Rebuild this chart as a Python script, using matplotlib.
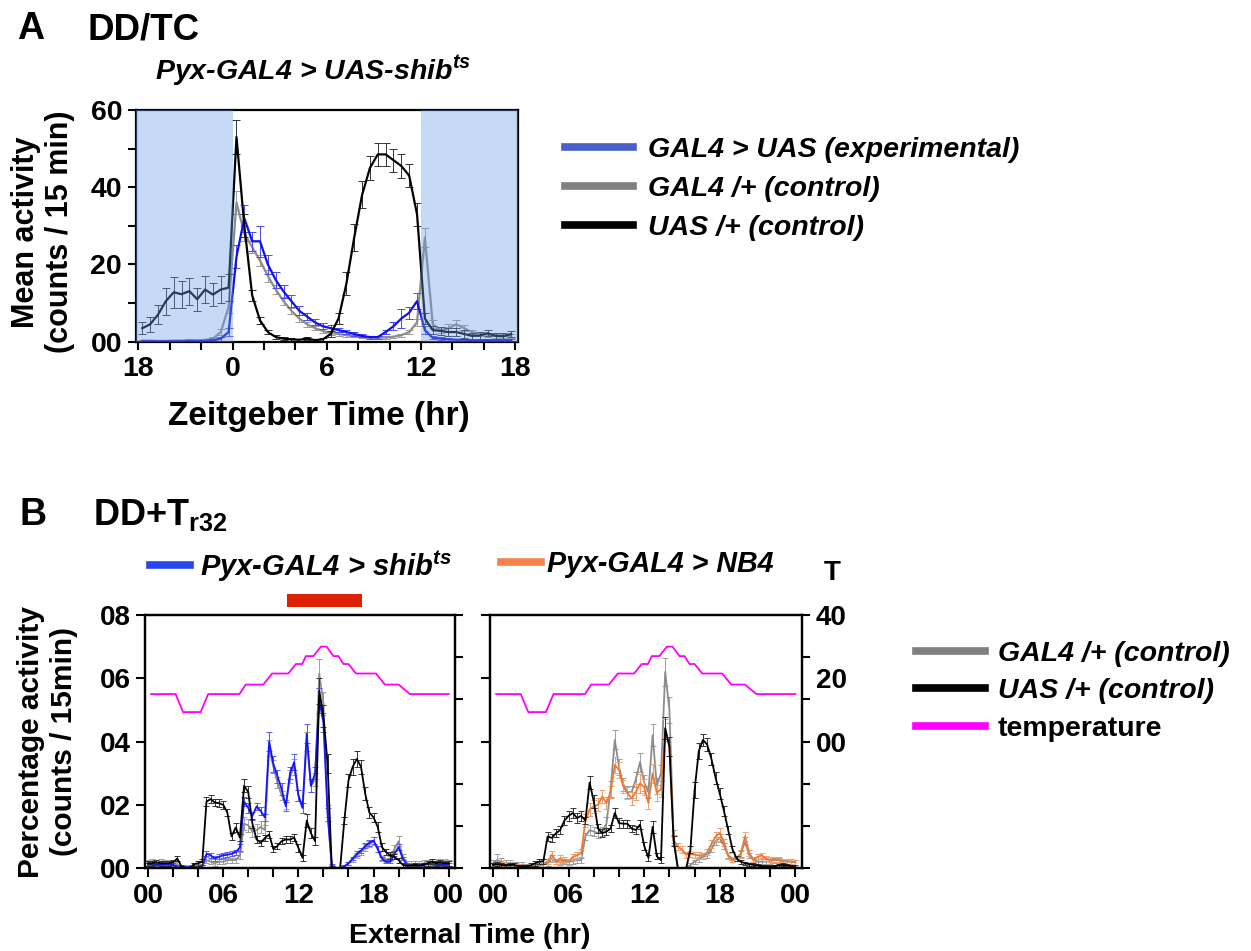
import numpy as np
import matplotlib
matplotlib.use('Agg')
import matplotlib.pyplot as plt
from matplotlib.lines import Line2D

plt.rcParams['font.family'] = 'Liberation Sans'
plt.rcParams['font.weight'] = 'bold'
plt.rcParams['mathtext.fontset'] = 'custom'
plt.rcParams['mathtext.rm'] = 'Liberation Sans:bold'
plt.rcParams['mathtext.it'] = 'Liberation Sans:bold:italic'
plt.rcParams['mathtext.bf'] = 'Liberation Sans:bold'
plt.rcParams['axes.linewidth'] = 1.6

# ---------------- Panel A: DD/TC, 30-min bins from ZT -6 to 18 ----------------
zt_a = np.arange(-5.75, 18.0, 0.5)

uas_a = [3.5, 4.5, 7.0, 10.5, 12.8, 12.3, 13.1, 11.0, 13.5, 12.2, 13.5, 14.0,
         53.0, 30.0, 12.0, 5.5, 2.5, 1.2, 0.8, 0.6, 0.5, 0.8, 0.4, 0.6,
         2.0, 6.0, 15.0, 27.0, 38.0, 45.0, 48.5, 48.5, 47.0, 45.5, 43.0, 33.0,
         6.0, 3.0, 2.8, 2.5, 2.5, 2.0, 1.5, 1.6, 2.2, 1.5, 1.4, 2.0]
uas_a_err = [1.5, 2.0, 2.5, 3.5, 4.0, 3.5, 3.5, 3.0, 3.5, 3.0, 3.5, 3.5,
             4.5, 3.0, 1.5, 1.0, 0.6, 0.5, 0.4, 0.4, 0.3, 0.4, 0.3, 0.4,
             0.8, 1.5, 3.0, 3.5, 3.5, 3.0, 3.0, 3.0, 3.0, 3.0, 3.0, 3.0,
             1.5, 1.0, 1.0, 1.0, 1.0, 1.0, 0.8, 0.8, 0.8, 0.8, 0.8, 0.8]

gal4_a = [0.3, 0.3, 0.2, 0.2, 0.3, 0.3, 0.4, 0.3, 0.5, 0.8, 2.5, 9.0,
          36.0, 28.0, 24.5, 21.0, 17.0, 13.5, 10.5, 8.0, 6.0, 4.5, 3.5, 2.8,
          2.2, 2.0, 1.7, 1.4, 1.2, 1.0, 1.0, 1.1, 1.3, 1.7, 2.5, 5.0,
          27.0, 4.5, 3.0, 3.5, 4.5, 3.5, 2.5, 2.0, 1.8, 1.5, 1.5, 1.4]
gal4_a_err = [0.2, 0.2, 0.2, 0.2, 0.2, 0.2, 0.2, 0.2, 0.3, 0.4, 0.8, 1.5,
              3.0, 2.0, 1.5, 1.5, 1.5, 1.2, 1.0, 0.8, 0.8, 0.6, 0.5, 0.5,
              0.4, 0.4, 0.4, 0.3, 0.3, 0.3, 0.3, 0.3, 0.3, 0.4, 0.5, 1.0,
              2.5, 1.0, 0.8, 1.0, 1.0, 0.8, 0.6, 0.6, 0.5, 0.5, 0.5, 0.5]

exp_a = [0.1, 0.1, 0.1, 0.1, 0.1, 0.1, 0.2, 0.2, 0.2, 0.4, 0.8, 2.5,
         22.0, 32.0, 26.0, 26.0, 20.0, 16.0, 13.0, 10.5, 8.0, 6.5, 5.0, 4.0,
         3.5, 3.0, 2.5, 2.0, 1.5, 1.2, 1.2, 2.5, 4.0, 6.0, 7.5, 10.5,
         3.0, 1.0, 0.8, 0.6, 0.5, 0.5, 0.4, 0.4, 0.4, 0.4, 0.4, 0.4]
exp_a_err = [0.1, 0.1, 0.1, 0.1, 0.1, 0.1, 0.1, 0.1, 0.2, 0.3, 0.5, 1.0,
             3.0, 3.5, 2.5, 4.0, 2.5, 2.0, 1.8, 1.5, 1.2, 1.0, 0.8, 0.8,
             0.7, 0.6, 0.5, 0.5, 0.4, 0.4, 0.4, 0.6, 1.0, 2.5, 1.5, 2.0,
             1.0, 0.4, 0.3, 0.3, 0.2, 0.2, 0.2, 0.2, 0.2, 0.2, 0.2, 0.2]

# ---------------- Panel B: DD + temperature ramp, 20-min bins 0-24 h ----------------
ext_b = np.arange(73) / 3.0

uas_l = [0.0015, 0.0015, 0.0018, 0.0015, 0.0015, 0.0015, 0.0018, 0.0030, 0.0005, 0.0000, 0.0000, 0.0012,
         0.0015, 0.0020, 0.0210, 0.0218, 0.0207, 0.0205, 0.0200, 0.0175, 0.0100, 0.0128, 0.0096, 0.0260,
         0.0240, 0.0140, 0.0090, 0.0080, 0.0095, 0.0106, 0.0060, 0.0070, 0.0085, 0.0090, 0.0090, 0.0096,
         0.0064, 0.0032, 0.0150, 0.0110, 0.0085, 0.0560, 0.0480, 0.0330, 0.0000, 0.0000, 0.0000, 0.0150,
         0.0277, 0.0320, 0.0345, 0.0320, 0.0235, 0.0175, 0.0160, 0.0130, 0.0066, 0.0050, 0.0040, 0.0035,
         0.0025, 0.0010, 0.0007, 0.0008, 0.0010, 0.0008, 0.0010, 0.0015, 0.0020, 0.0015, 0.0018, 0.0015, 0.0015]
uas_l_err = [0.0008] * 8 + [0.0005, 0.0003, 0.0003, 0.0005] + \
    [0.0008, 0.0010, 0.0015, 0.0012, 0.0012, 0.0012, 0.0012, 0.0012, 0.0012, 0.0015, 0.0012, 0.0020,
     0.0020, 0.0015, 0.0010, 0.0010, 0.0010, 0.0012, 0.0010, 0.0010, 0.0010, 0.0010, 0.0010, 0.0012,
     0.0012, 0.0010, 0.0020, 0.0015, 0.0012, 0.0040, 0.0035, 0.0030, 0.0005, 0.0003, 0.0003, 0.0012,
     0.0020, 0.0025, 0.0025, 0.0022, 0.0020, 0.0018, 0.0015, 0.0015, 0.0012, 0.0010, 0.0010, 0.0008,
     0.0008, 0.0006, 0.0005, 0.0005, 0.0005, 0.0006, 0.0006, 0.0008, 0.0008, 0.0008, 0.0008, 0.0008, 0.0008]

shib_l = [0.0010, 0.0010, 0.0010, 0.0010, 0.0010, 0.0010, 0.0010, 0.0002, 0.0002, 0.0002, 0.0002, 0.0002,
          0.0002, 0.0005, 0.0045, 0.0040, 0.0030, 0.0035, 0.0040, 0.0042, 0.0045, 0.0050, 0.0065, 0.0210,
          0.0190, 0.0165, 0.0195, 0.0180, 0.0160, 0.0400, 0.0330, 0.0290, 0.0250, 0.0195, 0.0300, 0.0335,
          0.0230, 0.0190, 0.0425, 0.0260, 0.0300, 0.0530, 0.0460, 0.0170, 0.0007, 0.0000, 0.0000, 0.0005,
          0.0015, 0.0030, 0.0045, 0.0055, 0.0070, 0.0080, 0.0087, 0.0060, 0.0030, 0.0020, 0.0020, 0.0045,
          0.0066, 0.0030, 0.0010, 0.0008, 0.0008, 0.0010, 0.0010, 0.0012, 0.0012, 0.0010, 0.0010, 0.0010, 0.0010]
shib_l_err = [0.0006] * 8 + [0.0003] * 4 + \
    [0.0003, 0.0004, 0.0008, 0.0008, 0.0008, 0.0008, 0.0008, 0.0008, 0.0008, 0.0008, 0.0010, 0.0015,
     0.0015, 0.0012, 0.0012, 0.0012, 0.0012, 0.0030, 0.0025, 0.0020, 0.0018, 0.0015, 0.0020, 0.0025,
     0.0018, 0.0015, 0.0030, 0.0020, 0.0020, 0.0040, 0.0030, 0.0020, 0.0005, 0.0003, 0.0003, 0.0004,
     0.0005, 0.0006, 0.0008, 0.0008, 0.0008, 0.0010, 0.0010, 0.0008, 0.0006, 0.0005, 0.0005, 0.0008,
     0.0010, 0.0006, 0.0005] + [0.0005] * 10

gal4_l = [0.0015, 0.0020, 0.0015, 0.0018, 0.0015, 0.0015, 0.0012, 0.0010, 0.0005, 0.0003, 0.0003, 0.0005,
          0.0008, 0.0010, 0.0025, 0.0020, 0.0015, 0.0020, 0.0020, 0.0025, 0.0025, 0.0025, 0.0040, 0.0140,
          0.0135, 0.0115, 0.0120, 0.0130, 0.0120, 0.0380, 0.0320, 0.0270, 0.0230, 0.0200, 0.0290, 0.0320,
          0.0230, 0.0190, 0.0400, 0.0260, 0.0280, 0.0615, 0.0520, 0.0180, 0.0005, 0.0000, 0.0000, 0.0005,
          0.0015, 0.0025, 0.0040, 0.0050, 0.0065, 0.0075, 0.0085, 0.0060, 0.0030, 0.0025, 0.0030, 0.0060,
          0.0085, 0.0035, 0.0015, 0.0012, 0.0012, 0.0012, 0.0015, 0.0015, 0.0020, 0.0020, 0.0020, 0.0020, 0.0015]
gal4_l_err = [0.0010] * 8 + [0.0006] * 4 + \
    [0.0006, 0.0008, 0.0010, 0.0008, 0.0008, 0.0008, 0.0008, 0.0008, 0.0008, 0.0008, 0.0012, 0.0020,
     0.0020, 0.0018, 0.0018, 0.0020, 0.0015, 0.0025, 0.0020, 0.0018, 0.0015, 0.0015, 0.0020, 0.0025,
     0.0018, 0.0015, 0.0030, 0.0020, 0.0020, 0.0045, 0.0035, 0.0020, 0.0004, 0.0003, 0.0003, 0.0004,
     0.0005, 0.0006, 0.0008, 0.0008, 0.0010, 0.0010, 0.0012, 0.0010, 0.0008, 0.0006, 0.0008, 0.0012,
     0.0015, 0.0008, 0.0006] + [0.0010] * 10

uas_r = [0.0010, 0.0012, 0.0010, 0.0008, 0.0010, 0.0010, 0.0005, 0.0005, 0.0005, 0.0008, 0.0015, 0.0020,
         0.0022, 0.0100, 0.0095, 0.0110, 0.0120, 0.0150, 0.0165, 0.0174, 0.0158, 0.0165, 0.0150, 0.0270,
         0.0210, 0.0125, 0.0110, 0.0115, 0.0125, 0.0174, 0.0142, 0.0140, 0.0140, 0.0125, 0.0120, 0.0137,
         0.0070, 0.0032, 0.0130, 0.0037, 0.0025, 0.0442, 0.0384, 0.0085, 0.0000, 0.0000, 0.0000, 0.0058,
         0.0247, 0.0370, 0.0405, 0.0390, 0.0345, 0.0285, 0.0235, 0.0180, 0.0120, 0.0060, 0.0030, 0.0020,
         0.0015, 0.0012, 0.0010, 0.0008, 0.0005, 0.0005, 0.0003, 0.0005, 0.0008, 0.0010, 0.0008, 0.0005, 0.0005]
uas_r_err = [0.0006] * 9 + [0.0008] * 3 + \
    [0.0008, 0.0015, 0.0012, 0.0012, 0.0012, 0.0015, 0.0015, 0.0015, 0.0015, 0.0015, 0.0012, 0.0020,
     0.0020, 0.0015, 0.0012, 0.0012, 0.0012, 0.0015, 0.0015, 0.0012, 0.0012, 0.0012, 0.0012, 0.0015,
     0.0012, 0.0010, 0.0020, 0.0010, 0.0010, 0.0035, 0.0030, 0.0015, 0.0003, 0.0003, 0.0003, 0.0012,
     0.0025, 0.0025, 0.0020, 0.0020, 0.0020, 0.0020, 0.0018, 0.0015, 0.0012, 0.0010, 0.0008, 0.0006] + \
    [0.0005] * 13

nb4_r = [0.0010, 0.0010, 0.0012, 0.0010, 0.0010, 0.0008, 0.0008, 0.0005, 0.0005, 0.0005, 0.0005, 0.0008,
         0.0010, 0.0020, 0.0042, 0.0022, 0.0030, 0.0025, 0.0020, 0.0035, 0.0040, 0.0047, 0.0150, 0.0185,
         0.0195, 0.0200, 0.0226, 0.0205, 0.0240, 0.0326, 0.0310, 0.0258, 0.0237, 0.0220, 0.0240, 0.0268,
         0.0255, 0.0205, 0.0300, 0.0237, 0.0250, 0.0437, 0.0384, 0.0089, 0.0068, 0.0058, 0.0042, 0.0045,
         0.0042, 0.0040, 0.0037, 0.0050, 0.0075, 0.0100, 0.0110, 0.0080, 0.0037, 0.0026, 0.0030, 0.0045,
         0.0100, 0.0047, 0.0026, 0.0035, 0.0040, 0.0030, 0.0026, 0.0028, 0.0026, 0.0021, 0.0022, 0.0020, 0.0018]
nb4_r_err = [0.0006] * 12 + \
    [0.0006, 0.0008, 0.0012, 0.0008, 0.0010, 0.0010, 0.0010, 0.0010, 0.0010, 0.0012, 0.0020, 0.0020,
     0.0020, 0.0020, 0.0020, 0.0020, 0.0020, 0.0025, 0.0025, 0.0020, 0.0020, 0.0020, 0.0025, 0.0030,
     0.0025, 0.0020, 0.0030, 0.0025, 0.0025, 0.0035, 0.0030, 0.0015, 0.0012, 0.0010, 0.0010, 0.0010,
     0.0010, 0.0010, 0.0010, 0.0010, 0.0012, 0.0015, 0.0015, 0.0012, 0.0010, 0.0008, 0.0008, 0.0012,
     0.0015, 0.0010, 0.0008] + [0.0008] * 10

gal4_r = [0.0015, 0.0025, 0.0020, 0.0015, 0.0015, 0.0012, 0.0010, 0.0010, 0.0008, 0.0008, 0.0010, 0.0012,
          0.0012, 0.0015, 0.0030, 0.0020, 0.0018, 0.0020, 0.0020, 0.0022, 0.0025, 0.0025, 0.0100, 0.0120,
          0.0115, 0.0110, 0.0115, 0.0140, 0.0250, 0.0405, 0.0320, 0.0265, 0.0240, 0.0240, 0.0280, 0.0335,
          0.0270, 0.0240, 0.0420, 0.0260, 0.0300, 0.0620, 0.0500, 0.0100, 0.0000, 0.0000, 0.0000, 0.0010,
          0.0020, 0.0028, 0.0035, 0.0040, 0.0060, 0.0085, 0.0095, 0.0070, 0.0040, 0.0030, 0.0030, 0.0045,
          0.0085, 0.0040, 0.0025, 0.0020, 0.0020, 0.0020, 0.0022, 0.0025, 0.0025, 0.0022, 0.0020, 0.0020, 0.0018]
gal4_r_err = [0.0010, 0.0018, 0.0012, 0.0010, 0.0010, 0.0008, 0.0008, 0.0008, 0.0006, 0.0006, 0.0006, 0.0008,
              0.0008, 0.0008, 0.0010, 0.0008, 0.0008, 0.0008, 0.0008, 0.0008, 0.0008, 0.0008, 0.0012, 0.0015,
              0.0015, 0.0015, 0.0015, 0.0020, 0.0025, 0.0030, 0.0025, 0.0020, 0.0020, 0.0020, 0.0025, 0.0030,
              0.0025, 0.0020, 0.0035, 0.0025, 0.0025, 0.0045, 0.0040, 0.0020, 0.0003, 0.0003, 0.0003, 0.0005,
              0.0006, 0.0008, 0.0008, 0.0008, 0.0010, 0.0012, 0.0012, 0.0010, 0.0008, 0.0006, 0.0008, 0.0010,
              0.0012, 0.0008, 0.0006] + [0.0008] * 10

# temperature profile (breakpoints)
temp_t = [0.25, 2.2, 2.8, 4.2, 4.8, 7.3, 7.8, 9.2, 9.9, 11.2, 11.8, 12.3, 12.6, 13.2, 13.8,
          14.25, 14.8, 15.2, 15.6, 16.0, 16.6, 18.2, 18.9, 20.0, 20.9, 24.0]
temp_v = [15, 15, 9.3, 9.3, 15, 15, 18, 18, 21.5, 21.5, 24.5, 24.5, 27, 27, 30,
          30, 27, 27, 24.5, 24.5, 21.5, 21.5, 18, 18, 15, 15]

heat_bar = (11.1, 17.1)

# ---------------- drawing ----------------
W, H = 1251, 951
fig = plt.figure(figsize=(W / 100, H / 100), dpi=100)


def fx(px):
    return px / W


def fy(py):
    return 1 - py / H


def serie(ax, x, y, err, color, ecolor, lw, z, cap):
    ax.errorbar(x, y, yerr=err, color=color, ecolor=ecolor, lw=lw,
                elinewidth=0.7, capsize=cap, capthick=0.7, zorder=z)


# Panel A
axA = fig.add_axes([fx(136), fy(341.7), fx(518.3 - 136), (341.7 - 110) / H])
serie(axA, zt_a, gal4_a, gal4_a_err, '#8c8c8c', '#9a9a9a', 1.6, 2.0, 2.8)
serie(axA, zt_a, exp_a, exp_a_err, '#1010f0', '#4a4af5', 1.6, 2.1, 2.8)
serie(axA, zt_a, uas_a, uas_a_err, 'black', '#333333', 1.6, 2.2, 2.8)
axA.axvspan(-6.2, 0, color=(0.41, 0.62, 0.92), alpha=0.38, lw=0, zorder=3)
axA.axvspan(12, 18.3, color=(0.41, 0.62, 0.92), alpha=0.38, lw=0, zorder=3)
axA.set_xlim(-6.15, 18.2)
axA.set_ylim(0, 60)
axA.set_xticks([-6, 0, 6, 12, 18], labels=['18', '0', '6', '12', '18'])
axA.set_xticks([-4, -2, 2, 4, 8, 10, 14, 16], minor=True)
axA.set_yticks([0, 20, 40, 60], labels=['00', '20', '40', '60'])
axA.set_yticks([10, 30, 50], minor=True)
axA.tick_params(which='both', direction='out', length=6, width=1.5, labelsize=20.5, pad=4)

fig.text(fx(43), fy(232), 'Mean activity\n(counts / 15 min)', rotation=90,
         ha='center', va='center', fontsize=22, linespacing=1.2)
fig.text(fx(319), fy(425), 'Zeitgeber Time (hr)', ha='center', va='baseline', fontsize=24)
fig.text(fx(17), fy(39), 'A', ha='left', va='baseline', fontsize=27)
fig.text(fx(87), fy(39), 'DD/TC', ha='left', va='baseline', fontsize=26.5)
fig.text(fx(155), fy(80), 'Pyx-GAL4 > UAS-shib$^{ts}$', ha='left', va='baseline',
         fontsize=20.5, fontstyle='italic')

legA = fig.legend([Line2D([], [], color='#4a5fc8', lw=5.5),
                   Line2D([], [], color='#808080', lw=5.5),
                   Line2D([], [], color='black', lw=5.5)],
                  ['GAL4 > UAS (experimental)', 'GAL4 /+ (control)', 'UAS /+ (control)'],
                  loc='upper left', bbox_to_anchor=(fx(565), fy(137)), frameon=False,
                  prop={'size': 20.5, 'style': 'italic', 'weight': 'bold'},
                  handlelength=2.4, handletextpad=0.5, labelspacing=0.46,
                  borderpad=0, borderaxespad=0)

# Panel B
def panel_b(left_px, right_px, ctrl_gal4, ctrl_gal4_err, exp, exp_err, exp_col, exp_ecol,
            ctrl_uas, ctrl_uas_err, left_labels, right_labels):
    ax = fig.add_axes([fx(left_px), fy(868), fx(right_px - left_px), (868 - 615) / H])
    serie(ax, ext_b, ctrl_gal4, ctrl_gal4_err, '#8c8c8c', '#a0a0a0', 1.3, 2.0, 2.2)
    serie(ax, ext_b, exp, exp_err, exp_col, exp_ecol, 1.3, 2.1, 2.2)
    serie(ax, ext_b, ctrl_uas, ctrl_uas_err, 'black', '#333333', 1.3, 2.2, 2.2)
    ax.set_xlim(-0.24, 24.5)
    ax.set_ylim(0, 0.08)
    ax.set_xticks([0, 6, 12, 18, 24], labels=['00', '06', '12', '18', '00'])
    ax.set_xticks([2, 4, 8, 10, 14, 16, 20, 22], minor=True)
    ax.set_yticks([0, 0.02, 0.04, 0.06, 0.08])
    if left_labels:
        ax.set_yticklabels(['00', '02', '04', '06', '08'])
    else:
        ax.set_yticklabels([])
    ax.tick_params(which='both', direction='out', length=6.5, width=1.5, labelsize=20, pad=4)

    tw = ax.twinx()
    tw.plot(temp_t, temp_v, color='#ff00ff', lw=1.3, zorder=5)
    tw.set_ylim(-40, 40)
    tw.set_yticks(np.linspace(-40, 40, 7))
    if right_labels:
        tw.set_yticklabels(['', '', '', '00', '', '', '40'])
        tw.set_yticks([20], labels=['20'], minor=True)
        tw.tick_params(which='minor', length=0, labelsize=20, pad=10)
    else:
        tw.set_yticklabels([])
    tw.tick_params(which='major', direction='out', length=6, width=1.5, labelsize=20, pad=4)
    return ax


axL = panel_b(145, 455, gal4_l, gal4_l_err, shib_l, shib_l_err, '#1414ff', '#5a5aff',
              uas_l, uas_l_err, True, False)
axR = panel_b(490, 801.7, gal4_r, gal4_r_err, nb4_r, nb4_r_err, '#ee7a30', '#f0a070',
              uas_r, uas_r_err, False, True)

axL.fill_between(list(heat_bar), 1.032, 1.083, transform=axL.get_xaxis_transform(),
                 color='#dd2200', lw=0, clip_on=False)

fig.text(fx(47.5), fy(742), 'Percentage activity\n(counts / 15min)', rotation=90,
         ha='center', va='center', fontsize=21.5, linespacing=1.2)
fig.text(fx(470), fy(943), 'External Time (hr)', ha='center', va='baseline', fontsize=20.5)
fig.text(fx(20), fy(525), 'B', ha='left', va='baseline', fontsize=27)
fig.text(fx(93), fy(525), r'DD+T$_{\mathrm{r32}}$', ha='left', va='baseline', fontsize=26)
fig.text(fx(832), fy(580), 'T', ha='center', va='baseline', fontsize=20)

fig.legend([Line2D([], [], color='#2846f0', lw=5.5)], ['Pyx-GAL4 > shib$^{ts}$'],
           loc='center left', bbox_to_anchor=(fx(150), fy(566)), frameon=False,
           prop={'size': 21, 'style': 'italic', 'weight': 'bold'},
           handlelength=1.37, handletextpad=0.34, borderpad=0, borderaxespad=0)
fig.legend([Line2D([], [], color='#f5824a', lw=5.5)], ['Pyx-GAL4 > NB4'],
           loc='center left', bbox_to_anchor=(fx(501), fy(564)), frameon=False,
           prop={'size': 20.6, 'style': 'italic', 'weight': 'bold'},
           handlelength=1.4, handletextpad=0.2, borderpad=0, borderaxespad=0)

legB = fig.legend([Line2D([], [], color='#808080', lw=5.5),
                   Line2D([], [], color='black', lw=5.5),
                   Line2D([], [], color='#ff00ff', lw=5.5)],
                  ['GAL4 /+ (control)', 'UAS /+ (control)', 'temperature'],
                  loc='upper left', bbox_to_anchor=(fx(916), fy(641)), frameon=False,
                  prop={'size': 20.5, 'style': 'italic', 'weight': 'bold'},
                  handlelength=2.42, handletextpad=0.45, labelspacing=0.40,
                  borderpad=0, borderaxespad=0)
legB.get_texts()[2].set_fontstyle('normal')

fig.savefig('out.png', dpi=100)
